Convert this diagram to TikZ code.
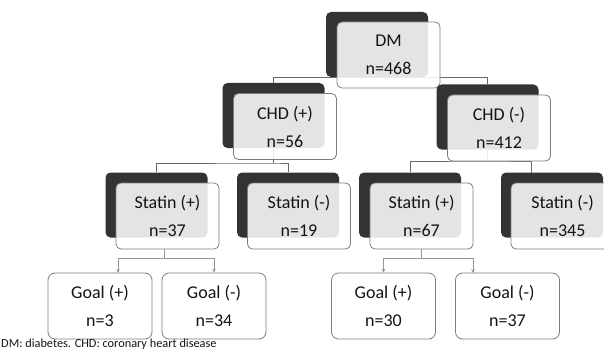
\documentclass[tikz,border=0pt]{standalone}
\usepackage{fontspec}
\setmainfont{Carlito}
\usetikzlibrary{arrows.meta, backgrounds}
\definecolor{darkbox}{RGB}{51,51,51}
\definecolor{edgegray}{RGB}{125,125,125}
\definecolor{linkgray}{RGB}{105,105,105}
\definecolor{paleline}{RGB}{150,150,150}
\definecolor{inkblack}{RGB}{20,20,20}

\begin{document}
\begin{tikzpicture}[x=1pt, y=-1pt,
  back/.style={fill=darkbox, rounded corners=5pt, minimum width=102pt, minimum height=65pt, inner sep=0pt},
  front/.style={draw=edgegray, line width=0.8pt, fill=white, fill opacity=0.87, text opacity=1, rounded corners=5pt, minimum width=103pt, minimum height=66pt, inner sep=0pt, align=center, font=\fontsize{18}{28}\selectfont, text=inkblack},
  goal/.style={draw=edgegray, line width=0.8pt, fill=white, rounded corners=7pt, minimum width=104pt, minimum height=66pt, inner sep=0pt, align=center, font=\fontsize{18}{28}\selectfont, text=inkblack},
  link/.style={draw=linkgray, line width=0.8pt},
  pin/.style={draw=paleline, line width=0.8pt},
  arr/.style={pin, -{Stealth[length=4pt, width=3.5pt]}}
]
  \useasboundingbox (0,0) rectangle (604,350);

  % -- top: DM --
  \node[back] (dmb) at (377,44.5) {};
  \node[front] (dm) at (388.5,55) {DM\\n=468};

  % -- CHD level --
  \node[back] (chdpb) at (273.5,115.5) {};
  \node[front] (chdp) at (285,126.5) {CHD (+)\\n=56};
  \node[back] (chdmb) at (487.5,117) {};
  \node[front] (chdm) at (499,128) {CHD (-)\\n=412};

  % -- statin level --
  \node[back] (stpab) at (156.5,205) {};
  \node[front] (stpa) at (167.5,216) {Statin (+)\\n=37};
  \node[back] (stmab) at (288,205) {};
  \node[front] (stma) at (299,216) {Statin (-)\\n=19};
  \node[back] (stpbb) at (410,205) {};
  \node[front] (stpb) at (421.5,216) {Statin (+)\\n=67};
  \node[back] (stmbb) at (552,205) {};
  \node[front] (stmb) at (562.5,216) {Statin (-)\\n=345};

  % -- goal level --
  \node[goal] (gpa) at (100,306) {Goal (+)\\n=3};
  \node[goal] (gma) at (214,306) {Goal (-)\\n=34};
  \node[goal] (gpb) at (383.5,306) {Goal (+)\\n=30};
  \node[goal] (gmb) at (507.5,306) {Goal (-)\\n=37};

  \node[anchor=base west, inner sep=0pt, font=\fontsize{12.3}{14}\selectfont, text=inkblack] (note) at (1,347) {DM: diabetes. CHD: coronary heart disease};

  % -- connectors --
  \coordinate (jc) at (273.5,163);
  \coordinate (jd) at (487.5,161);
  \coordinate (sd) at (531,173);
  \coordinate (ja) at (164,258);
  \coordinate (ga) at (118,273);
  \coordinate (jb) at (421.5,258);
  \coordinate (gb) at (473,273);
  \begin{scope}[on background layer]
    \draw[link] (chdpb.north) |- (dmb.south) -| (chdmb.north);
    \draw[link] (chdpb.south) -- (jc);
    \draw[link] (stpab.north) |- (jc) -| (stmab.north);
    \draw[link] (chdmb.south) -- (jd);
    \draw[link] (stpbb.north) |- (jd) -| (sd);
    \draw[pin] (stpa.south -| ja) -- (ja);
    \draw[arr] (ja) -| (ga);
    \draw[arr] (ja) -| (gma.north);
    \draw[pin] (stpb.south) -- (jb);
    \draw[arr] (jb) -| (gpb.north);
    \draw[arr] (jb) -| (gb);
  \end{scope}
\end{tikzpicture}
\end{document}
